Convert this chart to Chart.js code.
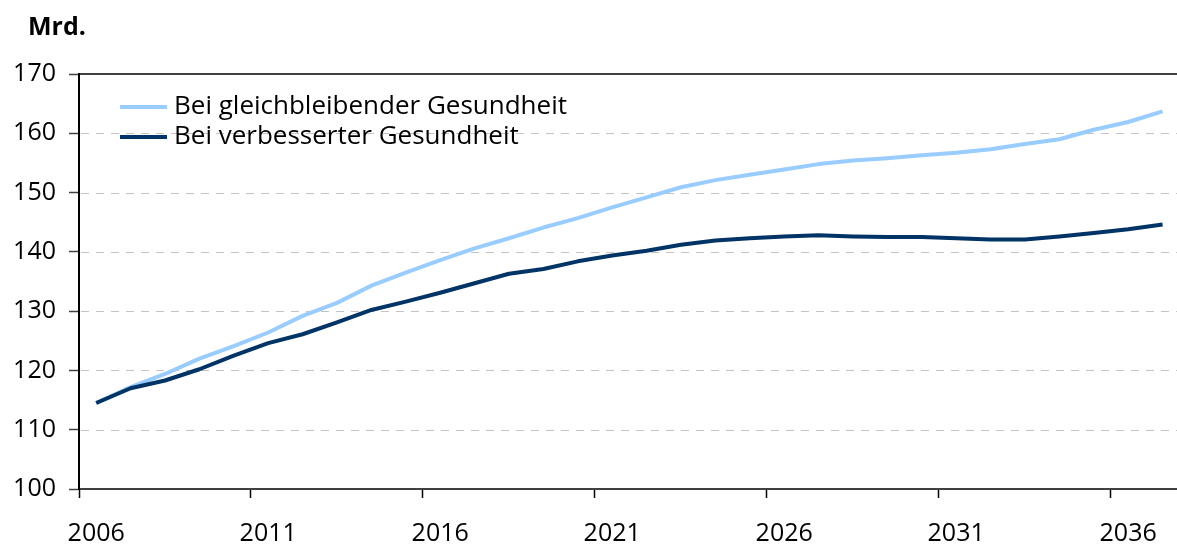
<!DOCTYPE html>
<html><head><meta charset="utf-8">
<script src="https://cdn.jsdelivr.net/npm/chart.js@4"></script>
<style>html,body{margin:0;padding:0;background:#fff;overflow:hidden}#wrap{width:1177px;height:547px;position:relative}</style>
</head><body><div id="wrap"><canvas id="c" width="1177" height="547"></canvas></div>
<script>
const years = [2006,2007,2008,2009,2010,2011,2012,2013,2014,2015,2016,2017,2018,2019,2020,2021,2022,2023,2024,2025,2026,2027,2028,2029,2030,2031,2032,2033,2034,2035,2036,2037];
const xTickLabels = ['2006','2011','2016','2021','2026','2031','2036'];
const yTickLabels = ['100','110','120','130','140','150','160','170'];
const seriesNames = ['Bei gleichbleibender Gesundheit','Bei verbesserter Gesundheit'];
const unitLabel = 'Mrd.';
const gleichbleibend = [114.5,117.2,119.4,122.0,124.1,126.4,129.2,131.4,134.3,136.5,138.6,140.6,142.3,144.1,145.7,147.5,149.2,150.9,152.1,153.0,153.9,154.8,155.4,155.8,156.3,156.7,157.3,158.2,159.0,160.6,161.9,163.7];
const verbessert = [114.5,117.0,118.3,120.2,122.5,124.6,126.1,128.1,130.2,131.6,133.1,134.7,136.3,137.1,138.4,139.4,140.2,141.2,141.9,142.3,142.6,142.8,142.6,142.5,142.5,142.3,142.1,142.1,142.6,143.2,143.8,144.6];

const FONT = '"Open Sans", sans-serif';
const LIGHT = '#99ccff';
const DARK = '#003366';

const deco = {
  id: 'deco',
  beforeDatasetsDraw(chart) {
    const {ctx, chartArea: a, scales: {y}} = chart;
    ctx.save();
    ctx.strokeStyle = '#c4c4c4';
    ctx.lineWidth = 1;
    ctx.setLineDash([8, 7]);
    for (const t of y.ticks) {
      if (t.value <= 100 || t.value >= 170) continue;
      const py = Math.round(y.getPixelForValue(t.value)) + 0.5;
      ctx.beginPath(); ctx.moveTo(a.left + 2, py); ctx.lineTo(a.right, py); ctx.stroke();
    }
    ctx.setLineDash([]);
    ctx.strokeStyle = '#000';
    ctx.lineWidth = 1.5;
    const top = y.getPixelForValue(170);
    ctx.beginPath(); ctx.moveTo(a.left, top); ctx.lineTo(a.right, top); ctx.stroke();
    ctx.restore();
  },
  afterDraw(chart) {
    const ctx = chart.ctx;
    ctx.save();
    ctx.fillStyle = '#000';
    ctx.textBaseline = 'middle';
    ctx.textAlign = 'left';
    ctx.font = 'bold 25px ' + FONT;
    ctx.fillText(unitLabel, 28, 28);
    ctx.font = '26px ' + FONT;
    chart.data.datasets.forEach((ds, i) => {
      const ly = 107 + 30 * i;
      ctx.strokeStyle = ds.borderColor;
      ctx.lineWidth = 4;
      ctx.beginPath(); ctx.moveTo(120, ly); ctx.lineTo(167, ly); ctx.stroke();
      ctx.fillText(ds.label, 174, ly);
    });
    ctx.restore();
  }
};

function build() {
  Chart.defaults.font.family = FONT;
  new Chart(document.getElementById('c'), {
    type: 'line',
    data: {
      datasets: [
        {label: seriesNames[0], order: 1, data: years.map((yr, i) => ({x: yr, y: gleichbleibend[i]})), borderColor: LIGHT, borderWidth: 4, pointRadius: 0, tension: 0, borderJoinStyle: 'round'},
        {label: seriesNames[1], order: 0, data: years.map((yr, i) => ({x: yr, y: verbessert[i]})), borderColor: DARK, borderWidth: 4, pointRadius: 0, tension: 0, borderJoinStyle: 'round'}
      ]
    },
    options: {
      responsive: false,
      animation: false,
      events: [],
      layout: {padding: {top: 74, right: 0, bottom: 0, left: 0}},
      plugins: {legend: {display: false}, tooltip: {enabled: false}, title: {display: false}},
      scales: {
        x: {
          type: 'linear',
          min: years[0] - 0.5,
          max: years[years.length - 1] + 0.42,
          afterBuildTicks: (s) => { s.ticks = xTickLabels.map(l => ({value: Number(l) - 0.5})); },
          afterFit: (s) => { s.height = 58; },
          ticks: {
            callback: (v, i) => xTickLabels[i],
            font: {size: 25, family: FONT},
            color: '#000',
            labelOffset: 17.2,
            padding: 21,
            maxRotation: 0,
            autoSkip: false
          },
          grid: {drawOnChartArea: false, drawTicks: true, tickLength: 9, tickColor: '#000', tickWidth: 1.5},
          border: {display: true, color: '#404040', width: 2}
        },
        y: {
          min: 100,
          max: 170,
          afterFit: (s) => { s.width = 79; },
          ticks: {
            stepSize: 10,
            callback: (v) => yTickLabels[Math.round((v - 100) / 10)],
            font: {size: 25, family: FONT},
            color: '#000',
            padding: 13
          },
          grid: {drawOnChartArea: false, drawTicks: true, tickLength: 10, tickColor: '#404040', tickWidth: 1.5},
          border: {display: true, color: '#000', width: 2}
        }
      }
    },
    plugins: [deco]
  });
}

Promise.all([
  document.fonts.load('25px "Open Sans"'),
  document.fonts.load('bold 25px "Open Sans"')
]).catch(() => {}).then(build);
</script>
</body></html>
